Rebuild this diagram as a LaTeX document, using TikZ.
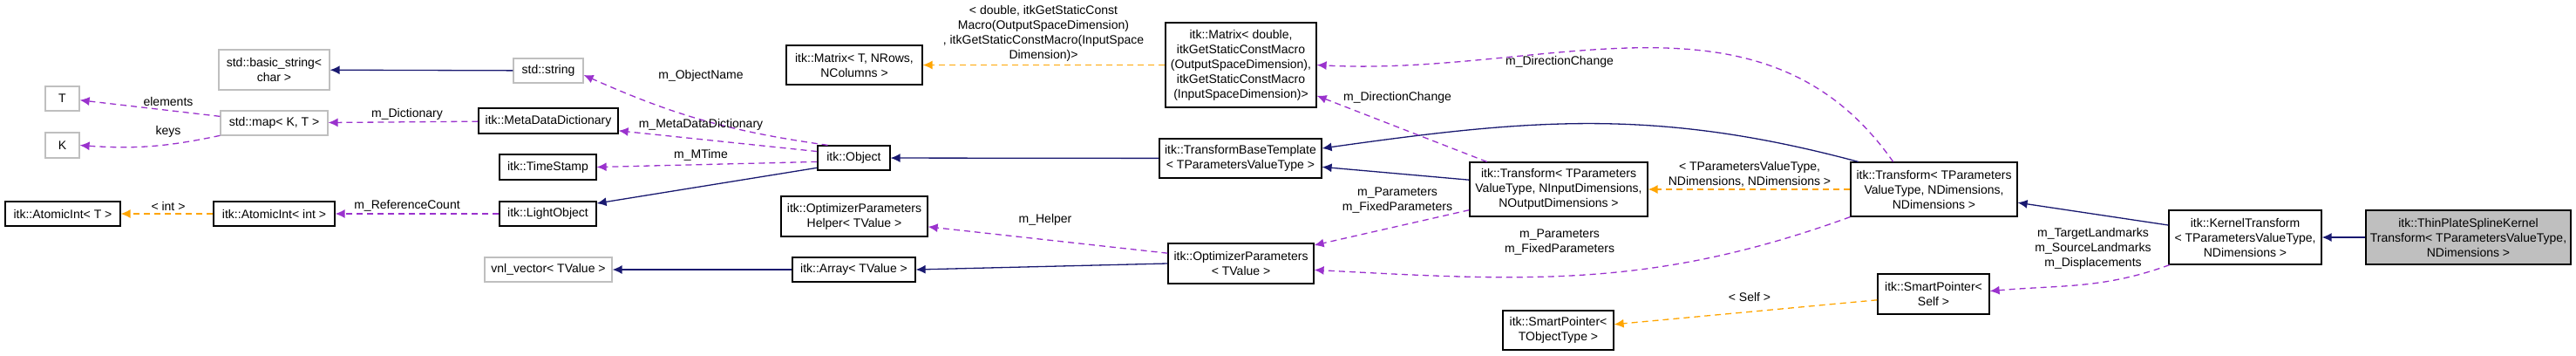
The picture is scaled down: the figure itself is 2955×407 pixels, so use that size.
\documentclass[tikz,border=0pt]{standalone}
\usepackage{fontspec}
\setmainfont{Liberation Sans}
\usetikzlibrary{arrows.meta}
\definecolor{inhc}{HTML}{191970}
\definecolor{usec}{HTML}{9A32CD}
\definecolor{tplc}{HTML}{FFA500}
\definecolor{grayb}{HTML}{BFBFBF}
\begin{document}
\begin{tikzpicture}[x=1pt,y=-1pt,
  every node/.style={font=\fontsize{14}{17}\selectfont},
  box/.style={draw=black, line width=1.2pt, inner sep=0pt, align=center},
  ubox/.style={box, draw=grayb},
  lbl/.style={inner sep=0pt, align=center},
  inh/.style={draw=inhc, line width=1.3pt, -{Latex[length=11pt,width=10pt]}},
  use/.style={draw=usec, line width=1.3pt, dash pattern=on 7pt off 5pt, -{Latex[length=11pt,width=10pt]}},
  tpl/.style={draw=tplc, line width=1.3pt, dash pattern=on 7pt off 5pt, -{Latex[length=11pt,width=10pt]}}]
\useasboundingbox (0,0) rectangle (2955,407);
% nodes
\node[ubox, minimum width=39, minimum height=28] (T) at (71.5,113) {T};
\node[ubox, minimum width=39, minimum height=29] (K) at (71.5,166.5) {K};
\node[ubox, minimum width=127, minimum height=46] (bstr) at (314.5,80) {std::basic\_string\textless\\char \textgreater};
\node[ubox, minimum width=80, minimum height=28] (sstr) at (629,81) {std::string};
\node[ubox, minimum width=123, minimum height=28] (smap) at (314.5,141) {std::map\textless{} K, T \textgreater};
\node[box, minimum width=160, minimum height=29] (mdd) at (629,138.5) {itk::MetaDataDictionary};
\node[box, minimum width=111, minimum height=29] (ts) at (628.5,191.5) {itk::TimeStamp};
\node[box, minimum width=111, minimum height=28] (lo) at (628.5,245) {itk::LightObject};
\node[box, minimum width=132, minimum height=28] (aiT) at (72,245) {itk::AtomicInt\textless{} T \textgreater};
\node[box, minimum width=139, minimum height=28] (aiI) at (314.5,245) {itk::AtomicInt\textless{} int \textgreater};
\node[ubox, minimum width=146, minimum height=28] (vnl) at (629,309) {vnl\_vector\textless{} TValue \textgreater};
\node[box, minimum width=83, minimum height=28] (obj) at (979.5,181) {itk::Object};
\node[box, minimum width=156, minimum height=45] (matT) at (980,74.5) {itk::Matrix\textless{} T, NRows,\\NColumns \textgreater};
\node[box, minimum width=168, minimum height=46] (oph) at (980,248) {itk::OptimizerParameters\\Helper\textless{} TValue \textgreater};
\node[box, minimum width=141, minimum height=28] (arr) at (979.5,309) {itk::Array\textless{} TValue \textgreater};
\node[box, minimum width=173, minimum height=97] (matD) at (1423.5,74.5) {itk::Matrix\textless{} double,\\itkGetStaticConstMacro\\(OutputSpaceDimension),\\itkGetStaticConstMacro\\(InputSpaceDimension)\textgreater};
\node[box, minimum width=186, minimum height=45] (tbt) at (1423,181.5) {itk::TransformBaseTemplate\\\textless{} TParametersValueType \textgreater};
\node[box, minimum width=167, minimum height=46] (op) at (1423.5,302) {itk::OptimizerParameters\\\textless{} TValue \textgreater};
\node[box, minimum width=204, minimum height=62] (trIn) at (1788,217) {itk::Transform\textless{} TParameters\\ValueType, NInputDimensions,\\NOutputDimensions \textgreater};
\node[box, minimum width=191, minimum height=62] (trND) at (2218.5,217) {itk::Transform\textless{} TParameters\\ValueType, NDimensions,\\NDimensions \textgreater};
\node[box, minimum width=127, minimum height=45] (spT) at (1787.5,378.5) {itk::SmartPointer\textless\\TObjectType \textgreater};
\node[box, minimum width=128, minimum height=46] (spS) at (2218,337) {itk::SmartPointer\textless\\Self \textgreater};
\node[box, minimum width=175, minimum height=62] (kt) at (2575.5,272) {itk::KernelTransform\\\textless{} TParametersValueType,\\NDimensions \textgreater};
\node[box, fill=grayb, minimum width=235, minimum height=62] (tps) at (2831.5,272) {itk::ThinPlateSplineKernel\\Transform\textless{} TParametersValueType,\\NDimensions \textgreater};
% inheritance
\draw[inh] (sstr) -- (bstr);
\draw[inh] (obj.-165) -- (lo.12);
\draw[inh] (tbt) -- (obj);
\draw[inh] (trIn.174) -- (tbt.-6.5);
\draw[inh] (trND.160) to[out=165,in=8] (tbt.7);
\draw[inh] (arr) -- (vnl);
\draw[inh] (op.west) -- (arr.east);
\draw[inh] (kt.171) -- (trND.-9.5);
\draw[inh] (tps) -- (kt);
% usage
\draw[use] (smap.173.5) -- (T.-5);
\draw[use] (smap.-167) to[bend left=8] (K.east);
\draw[use] (mdd) -- (smap);
\draw[use] (obj.154) to[bend left=8] (sstr.-7);
\draw[use] (obj.170) -- (mdd.-8);
\draw[use] (obj.-174) -- (ts.east);
\draw[use] (lo) -- (aiI);
\draw[use] (op.172.5) -- (oph.-8);
\draw[use] (trIn.159) -- (matD.-22);
\draw[use] (trND.146) to[out=125,in=-3] (matD.east);
\draw[use] (trIn.-167) -- (op.14);
\draw[use] (trND.south west) to[out=200,in=-3] (op.-5);
\draw[use] (kt.-160) to[out=200,in=5] (spS.3);
% template
\draw[tpl] (aiI) -- (aiT);
\draw[tpl] (matD.west |- matT.east) -- (matT.east);
\draw[tpl] (trND) -- (trIn);
\draw[tpl] (spS.-174) -- (spT.6);
% labels
\node[lbl] (l1) at (193,116) {elements};
\node[lbl] (l2) at (193,151) {keys};
\node[lbl] (l3) at (467,131) {m\_Dictionary};
\node[lbl] (l4) at (193,236) {\textless{} int \textgreater};
\node[lbl] (l5) at (467,236) {m\_ReferenceCount};
\node[lbl] (l6) at (804,87) {m\_ObjectName};
\node[lbl] (l7) at (804,143) {m\_MetaDataDictionary};
\node[lbl] (l8) at (804,178) {m\_MTime};
\node[lbl] (l9) at (1199,252) {m\_Helper};
\node[lbl] (l10) at (1197,38) {\textless{} double, itkGetStaticConst\\Macro(OutputSpaceDimension)\\, itkGetStaticConstMacro(InputSpace\\Dimension)\textgreater};
\node[lbl] (l11) at (1789,71) {m\_DirectionChange};
\node[lbl] (l12) at (1603,112) {m\_DirectionChange};
\node[lbl] (l13) at (1603,230) {m\_Parameters\\m\_FixedParameters};
\node[lbl] (l14) at (1789,278) {m\_Parameters\\m\_FixedParameters};
\node[lbl] (l15) at (2007,200) {\textless{} TParametersValueType,\\NDimensions, NDimensions \textgreater};
\node[lbl] (l16) at (2007,340) {\textless{} Self \textgreater};
\node[lbl] (l17) at (2401,285) {m\_TargetLandmarks\\m\_SourceLandmarks\\m\_Displacements};
\end{tikzpicture}
\end{document}
